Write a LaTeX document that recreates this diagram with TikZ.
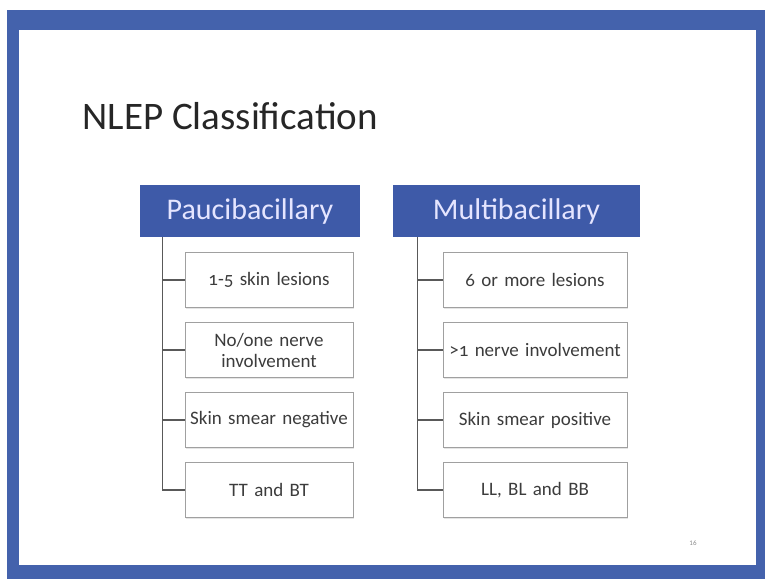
\documentclass[tikz,border=0pt]{standalone}
\usepackage{fontspec}
\setmainfont{Carlito}
\usetikzlibrary{shadows}
\definecolor{framebl}{RGB}{68,98,172}
\definecolor{headbl}{RGB}{62,90,168}
\definecolor{boxgray}{RGB}{160,160,160}
\definecolor{txtgray}{RGB}{60,60,60}
\tikzstyle{header} = [rectangle, minimum height=52pt, text centered, fill=headbl, text=white!90!blue, font=\fontsize{30}{32}\selectfont, inner sep=0pt]
\tikzstyle{item} = [rectangle, minimum height=55pt, text centered, align=center, draw=boxgray, fill=white, text=txtgray, font=\fontsize{19}{21}\selectfont\addfontfeature{Numbers=OldStyle}, drop shadow={opacity=0.2, shadow xshift=1pt, shadow yshift=-1.5pt}]
\tikzstyle{link} = [draw=black!65, line width=1.2pt]

\begin{document}
\begin{tikzpicture}[x=1pt, y=-1pt, node distance=70pt]
    % slide frame
    \fill [framebl] (7,10) rectangle (765,579);
    \fill [white] (19,30) rectangle (756,565);
    \useasboundingbox (0,0) rectangle (765,579);

    \node [anchor=base west, font=\fontsize{39}{41}\selectfont, text=black!85] (title) at (79,129) {NLEP Classification};

    % left branch
    \node [header, minimum width=220pt]								(pb)	at (250,211)	{Paucibacillary};
    \node [item, minimum width=168pt, text width=160pt]				(pb1)	at (269,280)	{1-5 skin lesions};
    \node [item, minimum width=168pt, text width=160pt, below of=pb1]	(pb2)					{No/one nerve\\involvement};
    \node [item, minimum width=168pt, text width=160pt, below of=pb2]	(pb3)					{Skin smear negative};
    \node [item, minimum width=168pt, text width=160pt, below of=pb3]	(pb4)					{TT and BT};

    % right branch
    \node [header, minimum width=247pt]								(mb)	at (516.5,211)	{Multibacillary};
    \node [item, minimum width=184pt, text width=176pt]				(mb1)	at (535,280)	{6 or more lesions};
    \node [item, minimum width=184pt, text width=176pt, below of=mb1]	(mb2)					{>1 nerve involvement};
    \node [item, minimum width=184pt, text width=176pt, below of=mb2]	(mb3)					{Skin smear positive};
    \node [item, minimum width=184pt, text width=176pt, below of=mb3]	(mb4)					{LL, BL and BB};

    \foreach \i in {1,...,4} {
        \draw [link] ([xshift=23pt]pb.south west) |- (pb\i.west);
        \draw [link] ([xshift=25pt]mb.south west) |- (mb\i.west);
    }

    \node [font=\fontsize{7}{8}\selectfont, text=black!45] (pgno) at (693,543) {16};
\end{tikzpicture}
\end{document}
